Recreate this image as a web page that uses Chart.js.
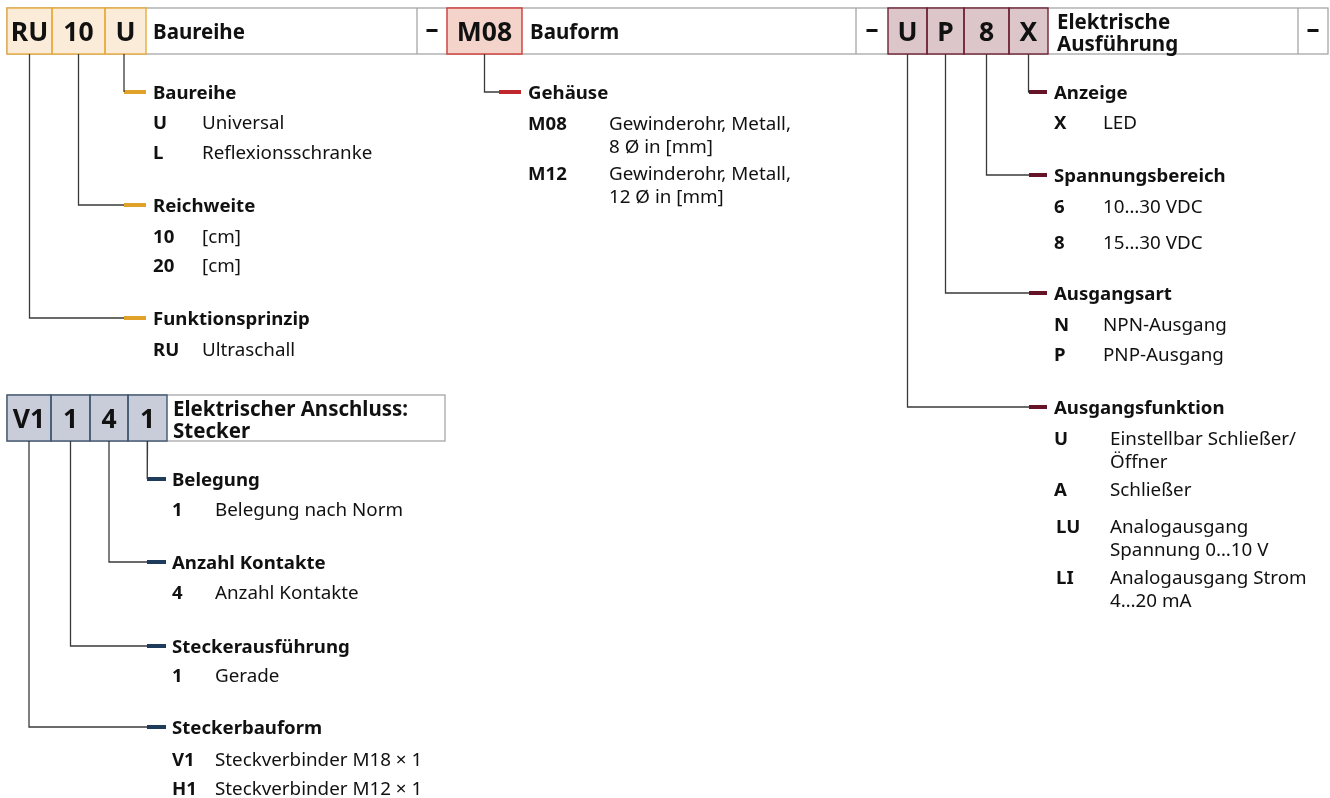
<!DOCTYPE html>
<html>
<head>
<meta charset="utf-8">
<script src="https://cdn.jsdelivr.net/npm/chart.js@4"></script>
<style>
  html, body { margin: 0; padding: 0; background: #fff; }
  #wrap { width: 1330px; height: 798px; position: relative; }
</style>
</head>
<body>
<div id="wrap"><canvas id="typeChart"></canvas></div>
<script>
// ------------------------------------------------------------------ data section
var groupCodes = [['RU', '10', 'U'], ['M08'], ['U', 'P', '8', 'X'], ['V1', '1', '4', '1']];
var groupTitles = ['Baureihe', 'Bauform', 'Elektrische\nAusführung', 'Elektrischer Anschluss:\nStecker'];
var sectionTitles = ['Baureihe', 'Reichweite', 'Funktionsprinzip', 'Gehäuse', 'Anzeige', 'Spannungsbereich',
    'Ausgangsart', 'Ausgangsfunktion', 'Belegung', 'Anzahl Kontakte', 'Steckerausführung', 'Steckerbauform'];
var sectionKeys = [['U', 'L'], ['10', '20'], ['RU'], ['M08', 'M12'], ['X'], ['6', '8'], ['N', 'P'],
    ['U', 'A', 'LU', 'LI'], ['1'], ['4'], ['1'], ['V1', 'H1']];
var sectionValues = [
    ['Universal', 'Reflexionsschranke'],
    ['[cm]', '[cm]'],
    ['Ultraschall'],
    ['Gewinderohr, Metall,\n8 Ø in [mm]', 'Gewinderohr, Metall,\n12 Ø in [mm]'],
    ['LED'],
    ['10…30 VDC', '15…30 VDC'],
    ['NPN-Ausgang', 'PNP-Ausgang'],
    ['Einstellbar Schließer/\nÖffner', 'Schließer', 'Analogausgang\nSpannung 0…10 V', 'Analogausgang Strom\n4…20 mA'],
    ['Belegung nach Norm'],
    ['Anzahl Kontakte'],
    ['Gerade'],
    ['Steckverbinder M18 × 1', 'Steckverbinder M12 × 1']
];

// ------------------------------------------------------------------ layout section
var groupFill = ['#fbecd9', '#f3d3ca', '#dcc6ca', '#c9ccd9'];
var groupLine = ['#e7ab3c', '#cc3b36', '#6e2233', '#3f5670'];
var groupDash = ['#e0a228', '#c0272d', '#651428', '#1f3b5b'];
var groupTop = [8, 8, 8, 395];
var groupBottom = [54, 54, 54, 441];
var groupCells = [[7, 52, 105, 146], [447, 522], [888, 927, 964, 1009, 1048], [7, 51, 90, 128, 167]];
var groupTitleX = [153, 530, 1057, 173];
var dashCells = [[417, 447], [856, 888], [1298, 1328]];

var sectionGroup = [0, 0, 0, 1, 2, 2, 2, 2, 3, 3, 3, 3];
var sectionCell = [2, 1, 0, 0, 3, 2, 1, 0, 3, 2, 1, 0];
var sectionY = [92, 205, 318, 92, 92, 175, 293, 407, 479, 562, 646, 727];
var sectionRowY = [[122, 152], [236, 265], [349], [123, 173], [122], [206, 242], [324, 354],
    [438, 489, 526, 577], [509], [592], [675], [759, 788]];
var dashX = [[124, 146], [499, 521], [1029, 1047], [147, 166]];
var headX = [153, 528, 1054, 172];
var valueX = [202, 609, 1103, 215];
var lineGap = 22.5;
var textShift = 2;

var FONT = '"Noto Sans", "Open Sans", sans-serif';

// connectors and dashes as line datasets
var datasets = [];
for (var s = 0; s < sectionTitles.length; s++) {
    var g = sectionGroup[s];
    var c = sectionCell[s];
    var cx = (groupCells[g][c] + groupCells[g][c + 1]) / 2;
    if (g == 0 && c == 2) cx = 124;
    datasets.push({
        type: 'line',
        data: [{x: cx, y: groupBottom[g]}, {x: cx, y: sectionY[s]}, {x: dashX[g][0], y: sectionY[s]}],
        borderColor: '#3a3a3a', borderWidth: 1.3, pointRadius: 0, fill: false, tension: 0
    });
    datasets.push({
        type: 'line',
        data: [{x: dashX[g][0], y: sectionY[s]}, {x: dashX[g][1], y: sectionY[s]}],
        borderColor: groupDash[g], borderWidth: 4, pointRadius: 0, fill: false, tension: 0,
        borderCapStyle: 'butt'
    });
}

function drawLines(ctx, text, x, y, gap) {
    var parts = text.split('\n');
    for (var i = 0; i < parts.length; i++) ctx.fillText(parts[i], x, y + i * gap);
}

const boxesPlugin = {
    id: 'typeBoxes',
    beforeDatasetsDraw(chart) {
        const ctx = chart.ctx;
        const px = v => chart.scales.x.getPixelForValue(v);
        const py = v => chart.scales.y.getPixelForValue(v);
        ctx.save();
        // grey frame of the top row
        ctx.strokeStyle = '#a6a6a6';
        ctx.lineWidth = 1.3;
        ctx.strokeRect(px(7), py(8), px(1328) - px(7), py(54) - py(8));
        // lower group frame
        ctx.strokeRect(px(7), py(395), px(445) - px(7), py(441) - py(395));
        for (var d = 0; d < dashCells.length; d++) {
            ctx.beginPath();
            ctx.moveTo(px(dashCells[d][0]), py(8));
            ctx.lineTo(px(dashCells[d][0]), py(54));
            ctx.stroke();
        }
        ctx.textBaseline = 'middle';
        ctx.fillStyle = '#111';
        ctx.textAlign = 'center';
        ctx.font = 'bold 26px ' + FONT;
        for (var d = 0; d < dashCells.length; d++) {
            ctx.fillText('–', px((dashCells[d][0] + dashCells[d][1]) / 2), py(31));
        }
        // code cells
        for (var g = 0; g < groupCodes.length; g++) {
            var cells = groupCells[g];
            var top = py(groupTop[g]), bot = py(groupBottom[g]);
            ctx.fillStyle = groupFill[g];
            ctx.fillRect(px(cells[0]), top, px(cells[cells.length - 1]) - px(cells[0]), bot - top);
            ctx.strokeStyle = groupLine[g];
            ctx.lineWidth = 1.4;
            for (var i = 0; i < groupCodes[g].length; i++) {
                ctx.strokeRect(px(cells[i]), top, px(cells[i + 1]) - px(cells[i]), bot - top);
            }
            ctx.fillStyle = '#111';
            ctx.textAlign = 'center';
            ctx.font = 'bold 26.5px ' + FONT;
            for (var i = 0; i < groupCodes[g].length; i++) {
                ctx.fillText(groupCodes[g][i], px((cells[i] + cells[i + 1]) / 2), (top + bot) / 2 + 2);
            }
            // title
            ctx.textAlign = 'left';
            var lines = groupTitles[g].split('\n');
            if (lines.length == 1) {
                ctx.font = 'bold 20.5px ' + FONT;
                ctx.fillText(lines[0], px(groupTitleX[g]), (top + bot) / 2 + textShift);
            } else {
                ctx.font = 'bold 20.5px ' + FONT;
                drawLines(ctx, groupTitles[g], px(groupTitleX[g]), top + 15, 22);
            }
        }
        // sections
        for (var s = 0; s < sectionTitles.length; s++) {
            var g = sectionGroup[s];
            ctx.fillStyle = '#111';
            ctx.textAlign = 'left';
            ctx.font = 'bold 18.6px ' + FONT;
            ctx.fillText(sectionTitles[s], px(headX[g]), py(sectionY[s]) + textShift);
            var vx = valueX[g];
            if (s == 7) vx = 1110;
            for (var r = 0; r < sectionKeys[s].length; r++) {
                var ry = py(sectionRowY[s][r]) + textShift;
                ctx.font = 'bold 18.6px ' + FONT;
                ctx.fillText(sectionKeys[s][r], px(headX[g] + (sectionKeys[s][r].length == 2 && g == 2 ? 2 : 0)), ry);
                ctx.font = '18.8px ' + FONT;
                drawLines(ctx, sectionValues[s][r], px(vx), ry, lineGap);
            }
        }
        ctx.restore();
    }
};

const ctx = document.getElementById('typeChart').getContext('2d');
const typeChart = new Chart(ctx, {
    type: 'scatter',
    data: { datasets: datasets },
    options: {
        responsive: true,
        maintainAspectRatio: false,
        animation: false,
        layout: { padding: 0 },
        plugins: { legend: { display: false }, tooltip: { enabled: false } },
        scales: {
            x: { type: 'linear', min: 0, max: 1330, display: false },
            y: { type: 'linear', min: 0, max: 798, reverse: true, display: false }
        }
    },
    plugins: [boxesPlugin]
});
</script>
</body>
</html>
